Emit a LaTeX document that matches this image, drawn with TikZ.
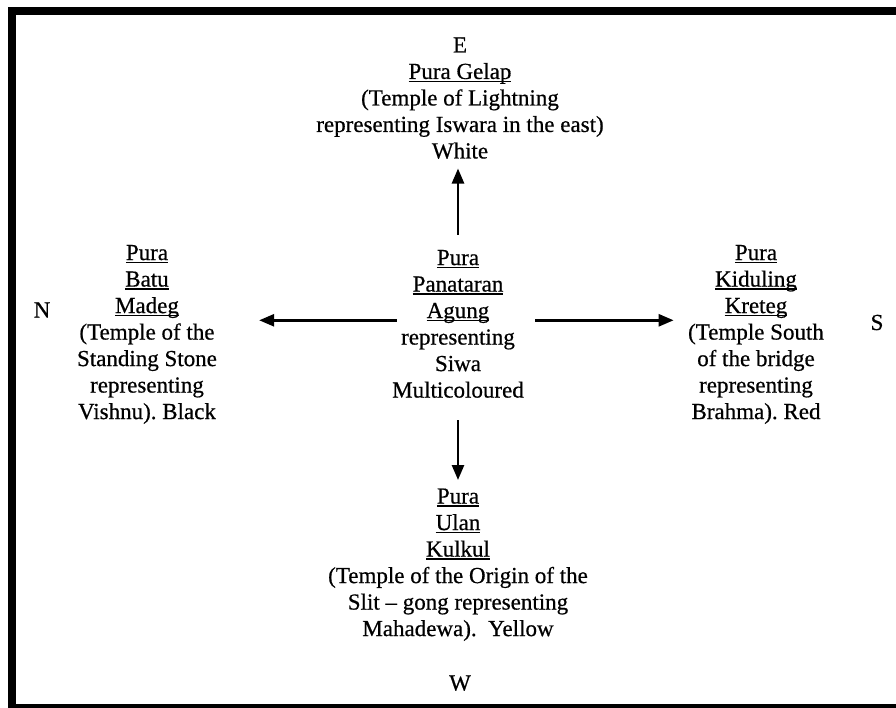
\documentclass[tikz,border=0pt]{standalone}
\usepackage{fontspec}
\setmainfont{Liberation Serif}[FakeBold=0.6]
\usetikzlibrary{arrows.meta}
\newsavebox\ulbox
\newcommand\uword[1]{\sbox\ulbox{#1}\rlap{\rule[-3pt]{\wd\ulbox}{1.4pt}}\usebox\ulbox}
\frenchspacing
\begin{document}
\begin{tikzpicture}[x=1pt,y=-1pt,
  txt/.style={font=\fontsize{23}{26.5}\selectfont, inner sep=0pt, align=center},
  arr/.style={-{Triangle[length=15pt,width=12pt]}, line width=2.6pt}]
\path[use as bounding box] (0,0) rectangle (896,708);
% Frame (its right side runs off the page)
\begin{scope}
\clip (0,0) rectangle (896,708);
\draw[line width=8pt] (12,11) rectangle (910,708);
\end{scope}

% Compass letters
\node[txt, anchor=base] (dirE) at (460,52.5) {E};
\node[txt, anchor=base] (dirN) at (42,317.5) {N};
\node[txt, anchor=base] (dirS) at (877,330) {S};
\node[txt, anchor=base] (dirW) at (460,690.5) {W};

% Temples
\node[txt, anchor=north] (gelap) at (460,62.8) {\uword{Pura Gelap}\\(Temple of Lightning\\representing Iswara in the east)\\White};
\node[txt, anchor=north] (centre) at (458,249.8) {\uword{Pura}\\\uword{Panataran}\\\uword{Agung}\\representing\\Siwa\\Multicoloured};
\node[txt, anchor=north] (batu) at (147,244.8) {\uword{Pura}\\\uword{Batu}\\\uword{Madeg}\\(Temple of the\\Standing Stone\\representing\\Vishnu). Black};
\node[txt, anchor=north] (kiduling) at (756,244.8) {\uword{Pura}\\\uword{Kiduling}\\\uword{Kreteg}\\(Temple South\\of the bridge\\representing\\Brahma). Red};
\node[txt, anchor=north] (ulan) at (458,488.3) {\uword{Pura}\\\uword{Ulan}\\\uword{Kulkul}\\(Temple of the Origin of the\\Slit -- gong representing\\Mahadewa).\ \ Yellow};

% Arrows out of the centre
\draw[arr, shorten <=14.8pt, shorten >=9.5pt] (centre.north) -- (centre.north |- gelap.south);
\draw[arr, shorten <=22.5pt, shorten >=8.3pt] (centre.south) -- (centre.south |- ulan.north);
\draw[arr, shorten <=-4.8pt, shorten >=42pt] ([yshift=3.6pt]centre.west) -- ([yshift=3.6pt]centre.west -| batu.east);
\draw[arr, shorten <=11.2pt, shorten >=14.3pt] ([yshift=3.6pt]centre.east) -- ([yshift=3.6pt]centre.east -| kiduling.west);
\end{tikzpicture}
\end{document}
